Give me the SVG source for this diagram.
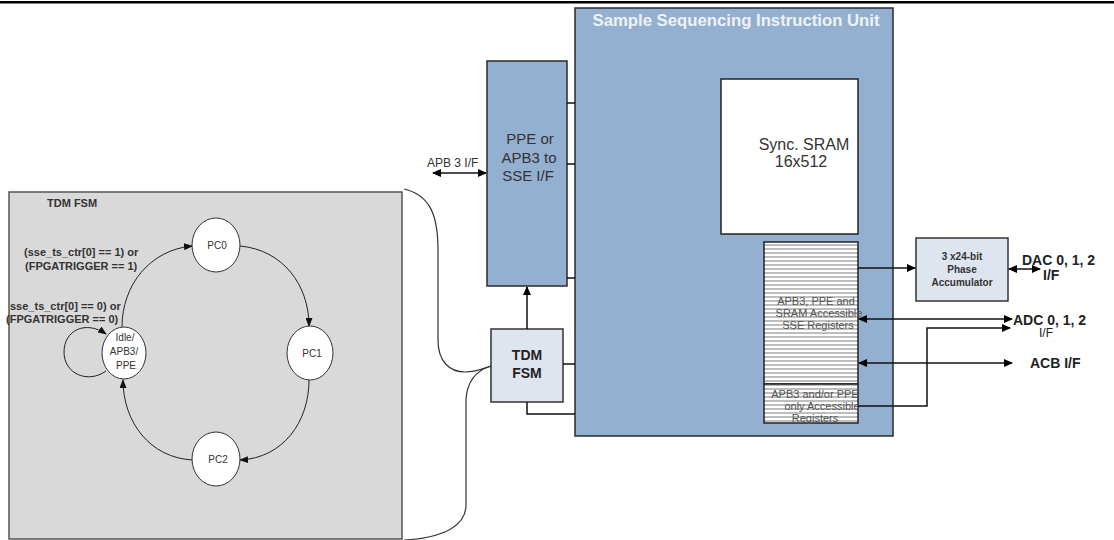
<svg xmlns="http://www.w3.org/2000/svg" width="1114" height="540" viewBox="0 0 1114 540">
<defs>
<style>
text{font-family:"Liberation Sans",Arial,sans-serif;}
.blk{fill:#94b0d0;stroke:#2a2a2a;stroke-width:1.5;}
.lt{fill:#dfe5ef;stroke:#333;stroke-width:1.5;}
.st{fill:#fff;stroke:#333;stroke-width:1;}
.ln{fill:none;stroke:#111;stroke-width:1.5;}
.fl{fill:none;stroke:#222;stroke-width:1;}
.fsm{font-size:11px;font-weight:bold;fill:#333;}
.sn{font-size:10px;fill:#333;text-anchor:middle;}
.rg{font-size:11px;fill:#555;text-anchor:middle;}
.big{font-size:15px;fill:#333;text-anchor:middle;}
.io{font-size:14px;font-weight:bold;fill:#222;}
</style>
<marker id="ah" markerWidth="9" markerHeight="8" refX="8" refY="4" orient="auto" markerUnits="userSpaceOnUse"><path d="M0,0 L9,4 L0,8 Z" fill="#000"/></marker>
<marker id="as" markerWidth="9" markerHeight="8" refX="1" refY="4" orient="auto" markerUnits="userSpaceOnUse"><path d="M9,0 L0,4 L9,8 Z" fill="#000"/></marker>
<marker id="af" markerWidth="9" markerHeight="7" refX="8" refY="3.5" orient="auto" markerUnits="userSpaceOnUse"><path d="M0,0 L9,3.5 L0,7 Z" fill="#111"/></marker>
<pattern id="stripes" width="4" height="4" patternUnits="userSpaceOnUse"><rect width="4" height="4" fill="#fff"/><rect width="4" height="2" fill="#bdbdbd"/></pattern>
</defs>
<rect x="0" y="1" width="1114" height="2.5" fill="#000"/>

<g id="tdm-fsm-panel">
<rect x="9" y="192" width="393" height="347" fill="#d9d9d9" stroke="#555" stroke-width="1.5"/>
<text x="47" y="207" class="fsm">TDM FSM</text>
<text x="24" y="256" class="fsm">(sse_ts_ctr[0] == 1) or</text>
<text x="25" y="270" class="fsm">(FPGATRIGGER == 1)</text>
<text x="10" y="310" class="fsm">sse_ts_ctr[0] == 0) or</text>
<text x="6" y="323" class="fsm">(FPGATRIGGER == 0)</text>
</g>

<g id="fsm-connectors">
<path class="fl" d="M122,327 C122,285 150,250 192,246" marker-end="url(#af)"/>
<path class="fl" d="M240,246 C283,250 309,285 309,326" marker-end="url(#af)"/>
<path class="fl" d="M309,380 C309,422 283,458 240,460" marker-end="url(#af)"/>
<path class="fl" d="M193,460 C150,458 123,422 123,380" marker-end="url(#af)"/>
<path class="fl" d="M106,371 C88,384 64,374 64,352 C64,330 86,320 106,334" marker-end="url(#af)"/>
</g>

<g id="state-pc0"><ellipse cx="216" cy="245" rx="24" ry="27" class="st"/><text x="217" y="249" class="sn">PC0</text></g>
<g id="state-pc1"><ellipse cx="310" cy="353" rx="23" ry="27" class="st"/><text x="312" y="357" class="sn">PC1</text></g>
<g id="state-pc2"><ellipse cx="216" cy="459" rx="24" ry="27" class="st"/><text x="218" y="463" class="sn">PC2</text></g>
<g id="state-idle"><ellipse cx="124" cy="353" rx="22" ry="26" class="st"/>
<text x="125" y="341" class="sn">Idle/</text><text x="124" y="355" class="sn">APB3/</text><text x="126" y="369" class="sn">PPE</text></g>

<g id="ssiu">
<rect x="575" y="8" width="318" height="428" class="blk"/>
<text x="736" y="26" font-size="16" font-weight="bold" fill="#eef2f7" text-anchor="middle" textLength="287" lengthAdjust="spacingAndGlyphs">Sample Sequencing Instruction Unit</text>
</g>

<g id="sram">
<rect x="721" y="79" width="137" height="155" fill="#fff" stroke="#222" stroke-width="1.5"/>
<text x="804" y="150" font-size="16" fill="#333" text-anchor="middle">Sync. SRAM</text>
<text x="801" y="167" font-size="16" fill="#333" text-anchor="middle">16x512</text>
</g>

<g id="registers">
<rect x="764" y="242" width="94" height="142" fill="url(#stripes)" stroke="#222" stroke-width="1.5"/>
<text x="816" y="305" class="rg">APB3, PPE and</text>
<text x="819" y="317" class="rg">SRAM Accessible</text>
<text x="818" y="329" class="rg">SSE Registers</text>
</g>
<g id="registers-only">
<rect x="764" y="384" width="94" height="39" fill="url(#stripes)" stroke="#222" stroke-width="1.5"/>
<text x="815" y="398" class="rg">APB3 and/or PPE</text>
<text x="822" y="410" class="rg">only Accessible</text>
<text x="815" y="422" class="rg">Registers</text>
</g>

<g id="ppe">
<rect x="487" y="61" width="80" height="225" class="blk"/>
<text x="530" y="144" class="big">PPE or</text>
<text x="529" y="163" class="big">APB3 to</text>
<text x="528" y="181" class="big">SSE I/F</text>
</g>

<g id="tdm-fsm">
<rect x="491" y="329" width="72" height="73" class="lt"/>
<text x="527" y="360" font-size="14" font-weight="bold" fill="#222" text-anchor="middle">TDM</text>
<text x="527" y="378" font-size="14" font-weight="bold" fill="#222" text-anchor="middle">FSM</text>
</g>

<g id="phase-acc">
<rect x="916" y="238" width="92" height="63" class="lt"/>
<text x="962" y="260" font-size="10" font-weight="bold" fill="#333" text-anchor="middle">3 x24-bit</text>
<text x="962" y="273" font-size="10" font-weight="bold" fill="#333" text-anchor="middle">Phase</text>
<text x="962" y="286" font-size="10" font-weight="bold" fill="#333" text-anchor="middle">Accumulator</text>
</g>

<g id="labels">
<text x="427" y="167" font-size="12" fill="#333">APB 3 I/F</text>
<text x="1022" y="265" class="io">DAC 0, 1, 2</text>
<text x="1043" y="280" class="io">I/F</text>
<text x="1013" y="325" class="io">ADC 0, 1, 2</text>
<text x="1039" y="337" font-size="12" fill="#222">I/F</text>
<text x="1030" y="368" class="io">ACB I/F</text>
</g>

<g id="connectors">
<path class="ln" d="M567,103 H575 M567,164 H575 M567,278 H575"/>
<path class="ln" d="M433,173 H486" marker-start="url(#as)" marker-end="url(#ah)"/>
<path class="ln" d="M527,329 V287" marker-end="url(#ah)"/>
<path class="ln" d="M563,364 H575"/>
<path class="ln" d="M527,402 V414 H575"/>
<path class="ln" d="M858,268 H915" marker-end="url(#ah)"/>
<path class="ln" d="M859,319 H1012" marker-start="url(#as)" marker-end="url(#ah)"/>
<path class="ln" d="M858,406 H927 V328 H1010" marker-end="url(#ah)"/>
<path class="ln" d="M859,363 H1012" marker-start="url(#as)" marker-end="url(#ah)"/>
<path class="ln" d="M1009,269 H1040" marker-start="url(#as)" marker-end="url(#ah)"/>
<path fill="none" stroke="#333" stroke-width="1.2" d="M404,189 C430,195 438,215 438,250 L438,340 C438,362 450,372 465,372 C476,372 485,368 491,366"/>
<path fill="none" stroke="#333" stroke-width="1.2" d="M491,366 C478,370 467,380 466,400 L466,505 C466,525 445,538 404,540"/>
</g>
</svg>
